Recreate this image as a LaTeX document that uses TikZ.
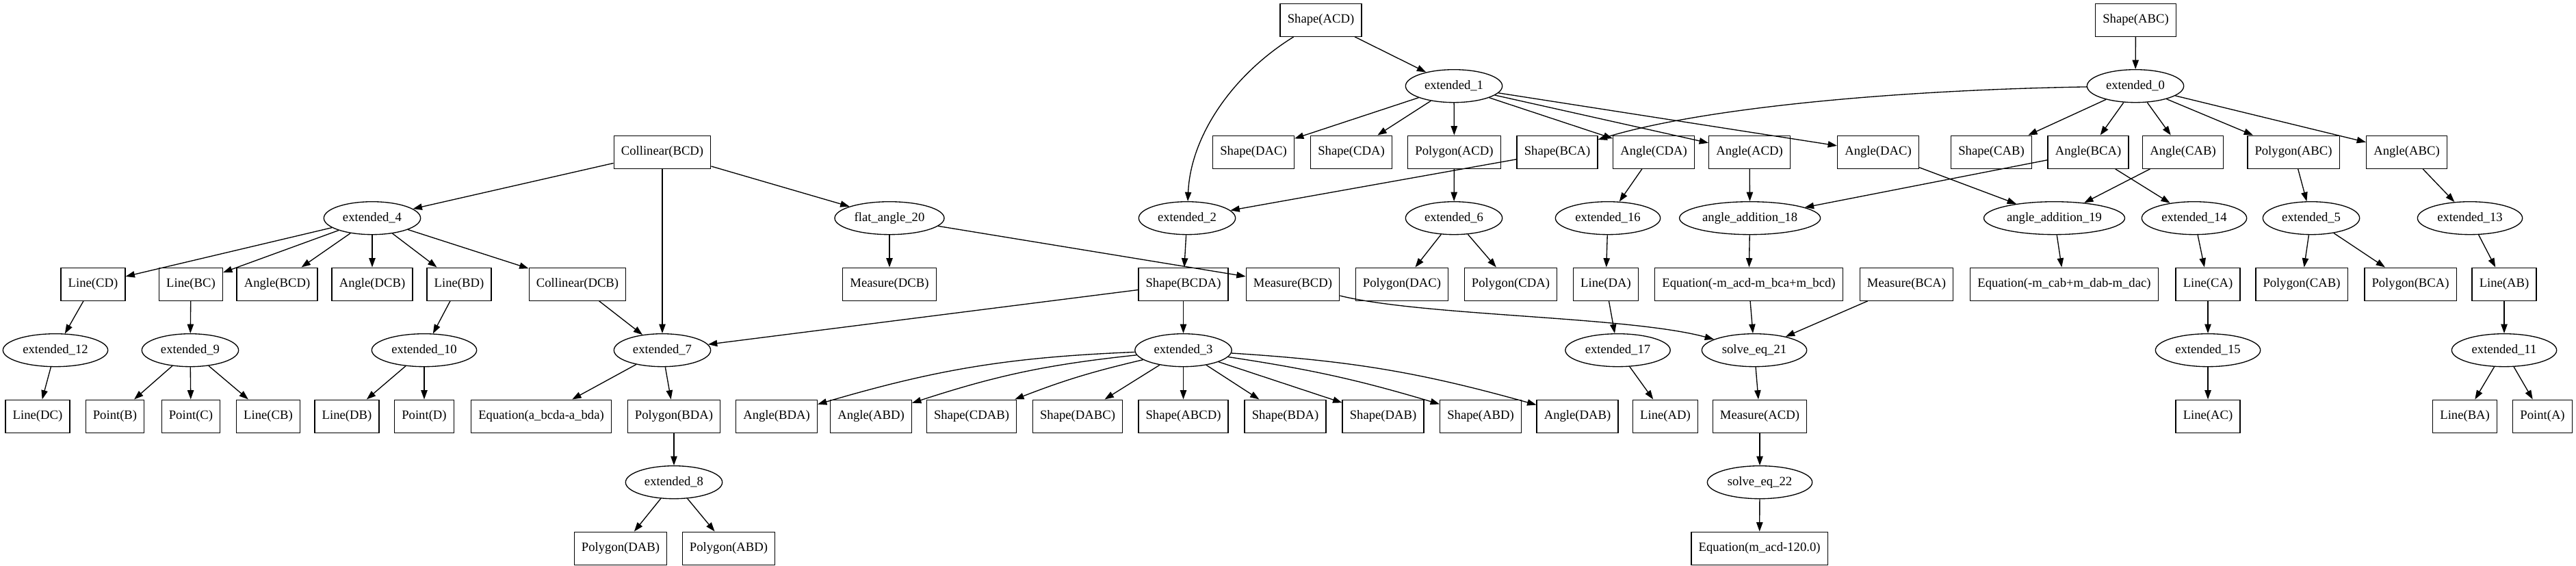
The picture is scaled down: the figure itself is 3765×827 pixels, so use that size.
\documentclass[tikz,border=0pt]{standalone}
\usepackage{fontspec}
\setmainfont{Liberation Serif}
\usetikzlibrary{arrows.meta,shapes.geometric}
\newcommand{\gvfont}{\fontsize{14pt}{16pt}\selectfont}
\tikzset{
 bx/.style={draw, rectangle, minimum height=36pt, minimum width=54pt, inner xsep=8pt, inner ysep=0pt, font=\gvfont, line width=1pt},
 el/.style={draw, ellipse, minimum height=36pt, inner sep=0pt, font=\gvfont, line width=1pt},
 ea/.style={el, minimum width=106pt},
 eb/.style={el, minimum width=115pt},
 ec/.style={el, minimum width=120pt},
 ed/.style={el, minimum width=154.5pt},
 edge/.style={-{Triangle[length=10pt,width=7pt]}, line width=1pt}
}
\begin{document}
\begin{tikzpicture}[x=0.75pt,y=-0.75pt]
\fill[white] (0,0) rectangle (3765,827);
\useasboundingbox (0,0) rectangle (3765,827);
% row 0
\node[bx] (ShapeACD) at (1930.5,29.2) {Shape(ACD)};
\node[bx] (ShapeABC) at (3121.5,29.2) {Shape(ABC)};
% row 1
\node[ea] (ext1) at (2125,125.7) {extended\_1};
\node[ea] (ext0) at (3121,125.7) {extended\_0};
% row 2
\node[bx] (CollBCD) at (968,222.2) {Collinear(BCD)};
\node[bx] (ShapeDAC) at (1832,222.2) {Shape(DAC)};
\node[bx] (ShapeCDA) at (1975,222.2) {Shape(CDA)};
\node[bx] (PolyACD) at (2125.5,222.2) {Polygon(ACD)};
\node[bx] (ShapeBCA) at (2276,222.2) {Shape(BCA)};
\node[bx] (AngleCDA) at (2417,222.2) {Angle(CDA)};
\node[bx] (AngleACD) at (2557,222.2) {Angle(ACD)};
\node[bx] (AngleDAC) at (2745,222.2) {Angle(DAC)};
\node[bx] (ShapeCAB) at (2910.5,222.2) {Shape(CAB)};
\node[bx] (AngleBCA) at (3052,222.2) {Angle(BCA)};
\node[bx] (AngleCAB) at (3190.5,222.2) {Angle(CAB)};
\node[bx] (PolyABC) at (3352,222.2) {Polygon(ABC)};
\node[bx] (AngleABC) at (3517.5,222.2) {Angle(ABC)};
% row 3
\node[ea] (ext4) at (544,318.7) {extended\_4};
\node[ec] (flat20) at (1300,318.7) {flat\_angle\_20};
\node[ea] (ext2) at (1735,318.7) {extended\_2};
\node[ea] (ext6) at (2125,318.7) {extended\_6};
\node[eb] (ext16) at (2350,318.7) {extended\_16};
\node[ed] (aa18) at (2557.6,318.7) {angle\_addition\_18};
\node[ed] (aa19) at (3002.5,318.7) {angle\_addition\_19};
\node[eb] (ext14) at (3207,318.7) {extended\_14};
\node[ea] (ext5) at (3378,318.7) {extended\_5};
\node[eb] (ext13) at (3610,318.7) {extended\_13};
% row 4
\node[bx] (LineCD) at (136,415.2) {Line(CD)};
\node[bx] (LineBC) at (279,415.2) {Line(BC)};
\node[bx] (AngleBCD) at (405,415.2) {Angle(BCD)};
\node[bx] (AngleDCB) at (544,415.2) {Angle(DCB)};
\node[bx] (LineBD) at (671,415.2) {Line(BD)};
\node[bx] (CollDCB) at (844,415.2) {Collinear(DCB)};
\node[bx] (MeasDCB) at (1300,415.2) {Measure(DCB)};
\node[bx] (ShapeBCDA) at (1729.5,415.2) {Shape(BCDA)};
\node[bx] (MeasBCD) at (1889.5,415.2) {Measure(BCD)};
\node[bx] (PolyDAC) at (2049,415.2) {Polygon(DAC)};
\node[bx] (PolyCDA) at (2208,415.2) {Polygon(CDA)};
\node[bx] (LineDA) at (2347,415.2) {Line(DA)};
\node[bx] (EqAcd) at (2556,415.2) {Equation(-m\_acd-m\_bca+m\_bcd)};
\node[bx] (MeasBCA) at (2786.5,415.2) {Measure(BCA)};
\node[bx] (EqCab) at (3017,415.2) {Equation(-m\_cab+m\_dab-m\_dac)};
\node[bx] (LineCA) at (3227,415.2) {Line(CA)};
\node[bx] (PolyCAB) at (3364,415.2) {Polygon(CAB)};
\node[bx] (PolyBCA) at (3523,415.2) {Polygon(BCA)};
\node[bx] (LineAB) at (3660,415.2) {Line(AB)};
% row 5
\node[eb] (ext12) at (81,511.7) {extended\_12};
\node[ea] (ext9) at (278,511.7) {extended\_9};
\node[eb] (ext10) at (620,511.7) {extended\_10};
\node[ea] (ext7) at (968,511.7) {extended\_7};
\node[ea] (ext3) at (1729.5,511.7) {extended\_3};
\node[eb] (ext17) at (2364.5,511.7) {extended\_17};
\node[eb] (solve21) at (2564,511.7) {solve\_eq\_21};
\node[eb] (ext15) at (3227,511.7) {extended\_15};
\node[eb] (ext11) at (3660,511.7) {extended\_11};
% row 6
\node[bx] (LineDC) at (55,608.2) {Line(DC)};
\node[bx] (PointB) at (168,608.2) {Point(B)};
\node[bx] (PointC) at (279,608.2) {Point(C)};
\node[bx] (LineCB) at (392,608.2) {Line(CB)};
\node[bx] (LineDB) at (507,608.2) {Line(DB)};
\node[bx] (PointD) at (620,608.2) {Point(D)};
\node[bx] (EqA) at (791,608.2) {Equation(a\_bcda-a\_bda)};
\node[bx] (PolyBDA) at (985,608.2) {Polygon(BDA)};
\node[bx] (AngleBDA) at (1135,608.2) {Angle(BDA)};
\node[bx] (AngleABD) at (1273,608.2) {Angle(ABD)};
\node[bx] (ShapeCDAB) at (1420,608.2) {Shape(CDAB)};
\node[bx] (ShapeDABC) at (1575,608.2) {Shape(DABC)};
\node[bx] (ShapeABCD) at (1729.5,608.2) {Shape(ABCD)};
\node[bx] (ShapeBDA) at (1878.5,608.2) {Shape(BDA)};
\node[bx] (ShapeDAB) at (2021.5,608.2) {Shape(DAB)};
\node[bx] (ShapeABD) at (2164,608.2) {Shape(ABD)};
\node[bx] (AngleDAB) at (2305.5,608.2) {Angle(DAB)};
\node[bx] (LineAD) at (2434,608.2) {Line(AD)};
\node[bx] (MeasACD) at (2572,608.2) {Measure(ACD)};
\node[bx] (LineAC) at (3227,608.2) {Line(AC)};
\node[bx] (LineBA) at (3602.6,608.2) {Line(BA)};
\node[bx] (PointA) at (3716,608.2) {Point(A)};
% row 7
\node[ea] (ext8) at (985,704.7) {extended\_8};
\node[eb] (solve22) at (2572,704.7) {solve\_eq\_22};
% row 8
\node[bx] (PolyDAB) at (907,801.2) {Polygon(DAB)};
\node[bx] (PolyABD) at (1065,801.2) {Polygon(ABD)};
\node[bx] (EqM) at (2571.6,801.2) {Equation(m\_acd-120.0)};
% edges
\draw[edge] (ShapeACD) -- (ext1);
\draw[edge] (ShapeACD) .. controls (1800,110) and (1740,200) .. (ext2);
\foreach \t in {ShapeDAC,ShapeCDA,PolyACD,AngleCDA,AngleACD,AngleDAC} \draw[edge] (ext1) -- (\t);
\draw[edge] (ShapeABC) -- (ext0);
\draw[edge] (ext0) .. controls (2750,132) and (2480,160) .. (ShapeBCA);
\foreach \t in {ShapeCAB,AngleBCA,AngleCAB,PolyABC,AngleABC} \draw[edge] (ext0) -- (\t);
\draw[edge] (ShapeBCA) -- (ext2);
\draw[edge] (PolyACD) -- (ext6);
\draw[edge] (ext6) -- (PolyDAC);
\draw[edge] (ext6) -- (PolyCDA);
\draw[edge] (AngleCDA) -- (ext16);
\draw[edge] (ext16) -- (LineDA);
\draw[edge] (LineDA) -- (ext17);
\draw[edge] (ext17) -- (LineAD);
\draw[edge] (AngleACD) -- (aa18);
\draw[edge] (AngleBCA) -- (aa18);
\draw[edge] (aa18) -- (EqAcd);
\draw[edge] (AngleDAC) -- (aa19);
\draw[edge] (AngleCAB) -- (aa19);
\draw[edge] (aa19) -- (EqCab);
\draw[edge] (AngleBCA) -- (ext14);
\draw[edge] (ext14) -- (LineCA);
\draw[edge] (LineCA) -- (ext15);
\draw[edge] (ext15) -- (LineAC);
\draw[edge] (PolyABC) -- (ext5);
\draw[edge] (ext5) -- (PolyCAB);
\draw[edge] (ext5) -- (PolyBCA);
\draw[edge] (AngleABC) -- (ext13);
\draw[edge] (ext13) -- (LineAB);
\draw[edge] (LineAB) -- (ext11);
\draw[edge] (ext11) -- (LineBA);
\draw[edge] (ext11) -- (PointA);
\draw[edge] (ext2) -- (ShapeBCDA);
\draw[edge] (ShapeBCDA) -- (ext3);
\draw[edge] (ShapeBCDA) -- (ext7);
\draw[edge] (CollBCD) -- (ext4);
\draw[edge] (CollBCD) -- (ext7);
\draw[edge] (CollBCD) -- (flat20);
\draw[edge] (flat20) -- (MeasDCB);
\draw[edge] (flat20) -- (MeasBCD);
\foreach \t in {LineCD,LineBC,AngleBCD,AngleDCB,LineBD,CollDCB} \draw[edge] (ext4) -- (\t);
\draw[edge] (CollDCB) -- (ext7);
\draw[edge] (LineCD) -- (ext12);
\draw[edge] (ext12) -- (LineDC);
\draw[edge] (LineBC) -- (ext9);
\foreach \t in {PointB,PointC,LineCB} \draw[edge] (ext9) -- (\t);
\draw[edge] (LineBD) -- (ext10);
\draw[edge] (ext10) -- (LineDB);
\draw[edge] (ext10) -- (PointD);
\draw[edge] (ext7) -- (EqA);
\draw[edge] (ext7) -- (PolyBDA);
\draw[edge] (PolyBDA) -- (ext8);
\draw[edge] (ext8) -- (PolyDAB);
\draw[edge] (ext8) -- (PolyABD);
\draw[edge] (ext3) to[bend right=7] (AngleBDA);
\draw[edge] (ext3) to[bend right=6] (AngleABD);
\draw[edge] (ext3) to[bend right=4] (ShapeCDAB);
\draw[edge] (ext3) -- (ShapeDABC);
\draw[edge] (ext3) -- (ShapeABCD);
\draw[edge] (ext3) -- (ShapeBDA);
\draw[edge] (ext3) -- (ShapeDAB);
\draw[edge] (ext3) to[bend left=4] (ShapeABD);
\draw[edge] (ext3) to[bend left=6] (AngleDAB);
\draw[edge] (MeasBCD) .. controls (2080,462) and (2380,462) .. (solve21);
\draw[edge] (EqAcd) -- (solve21);
\draw[edge] (MeasBCA) -- (solve21);
\draw[edge] (solve21) -- (MeasACD);
\draw[edge] (MeasACD) -- (solve22);
\draw[edge] (solve22) -- (EqM);
\end{tikzpicture}
\end{document}
